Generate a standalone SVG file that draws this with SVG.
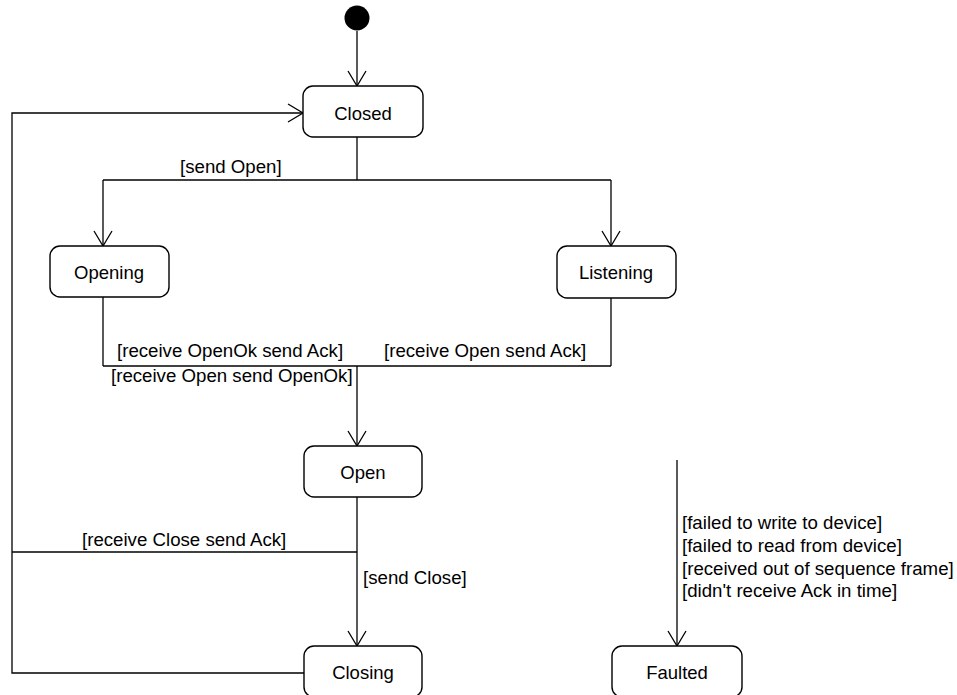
<svg xmlns="http://www.w3.org/2000/svg" width="957" height="695" viewBox="0 0 957 695">
<style>
.st{fill:#fff;stroke:#000;stroke-width:1.4}
.nt{font-family:"Liberation Sans",Arial,sans-serif;font-size:18.5px;fill:#000;text-anchor:middle}
.lb{font-family:"Liberation Sans",Arial,sans-serif;font-size:18.67px;fill:#000}
.cn{fill:none;stroke:#000;stroke-width:1.3}
</style>
<defs>
<marker id="arr" viewBox="0 0 20 20" refX="16" refY="10" markerWidth="20" markerHeight="20" markerUnits="userSpaceOnUse" orient="auto">
<path d="M1,1 L16,10 L1,19" fill="none" stroke="#000" stroke-width="1.3"/>
</marker>
</defs>
<rect width="957" height="695" fill="#fff"/>
<g id="connectors">
<line class="cn" x1="357" y1="31" x2="357" y2="86" marker-end="url(#arr)"/>
<polyline class="cn" points="304,673 12,673 12,113 303,113" marker-end="url(#arr)"/>
<line class="cn" x1="357" y1="137" x2="357" y2="180"/>
<line class="cn" x1="103" y1="180" x2="611" y2="180"/>
<line class="cn" x1="103" y1="180" x2="103" y2="246" marker-end="url(#arr)"/>
<line class="cn" x1="611" y1="180" x2="611" y2="246" marker-end="url(#arr)"/>
<line class="cn" x1="103" y1="297" x2="103" y2="366"/>
<line class="cn" x1="611" y1="298" x2="611" y2="366"/>
<line class="cn" x1="103" y1="366" x2="611" y2="366"/>
<line class="cn" x1="357" y1="366" x2="357" y2="446" marker-end="url(#arr)"/>
<line class="cn" x1="357" y1="497" x2="357" y2="646" marker-end="url(#arr)"/>
<line class="cn" x1="12" y1="552" x2="357" y2="552"/>
<line class="cn" x1="677" y1="460" x2="677" y2="646" marker-end="url(#arr)"/>
<text class="lb" x="180" y="173">[send Open]</text>
<text class="lb" x="117" y="357">[receive OpenOk send Ack]</text>
<text class="lb" x="384" y="357">[receive Open send Ack]</text>
<text class="lb" x="111" y="382">[receive Open send OpenOk]</text>
<text class="lb" x="82" y="546">[receive Close send Ack]</text>
<text class="lb" x="363" y="584">[send Close]</text>
<text class="lb" x="682" y="529">[failed to write to device]</text>
<text class="lb" x="682" y="552">[failed to read from device]</text>
<text class="lb" x="682" y="575">[received out of sequence frame]</text>
<text class="lb" x="682" y="597">[didn't receive Ack in time]</text>
</g>
<g id="initial"><circle cx="357" cy="18" r="12.5" fill="#000"/></g>
<g id="closed"><rect class="st" x="303" y="86" width="120" height="51" rx="10"/><text class="nt" x="363" y="120">Closed</text></g>
<g id="opening"><rect class="st" x="50" y="246" width="119" height="51" rx="10"/><text class="nt" x="109" y="279">Opening</text></g>
<g id="listening"><rect class="st" x="557" y="246" width="119" height="52" rx="10"/><text class="nt" x="616" y="279">Listening</text></g>
<g id="open"><rect class="st" x="304" y="446" width="118" height="51" rx="10"/><text class="nt" x="363" y="479">Open</text></g>
<g id="closing"><rect class="st" x="304" y="646" width="118" height="51" rx="10"/><text class="nt" x="363" y="679">Closing</text></g>
<g id="faulted"><rect class="st" x="612" y="646" width="130" height="51" rx="10"/><text class="nt" x="677" y="679">Faulted</text></g>
</svg>
